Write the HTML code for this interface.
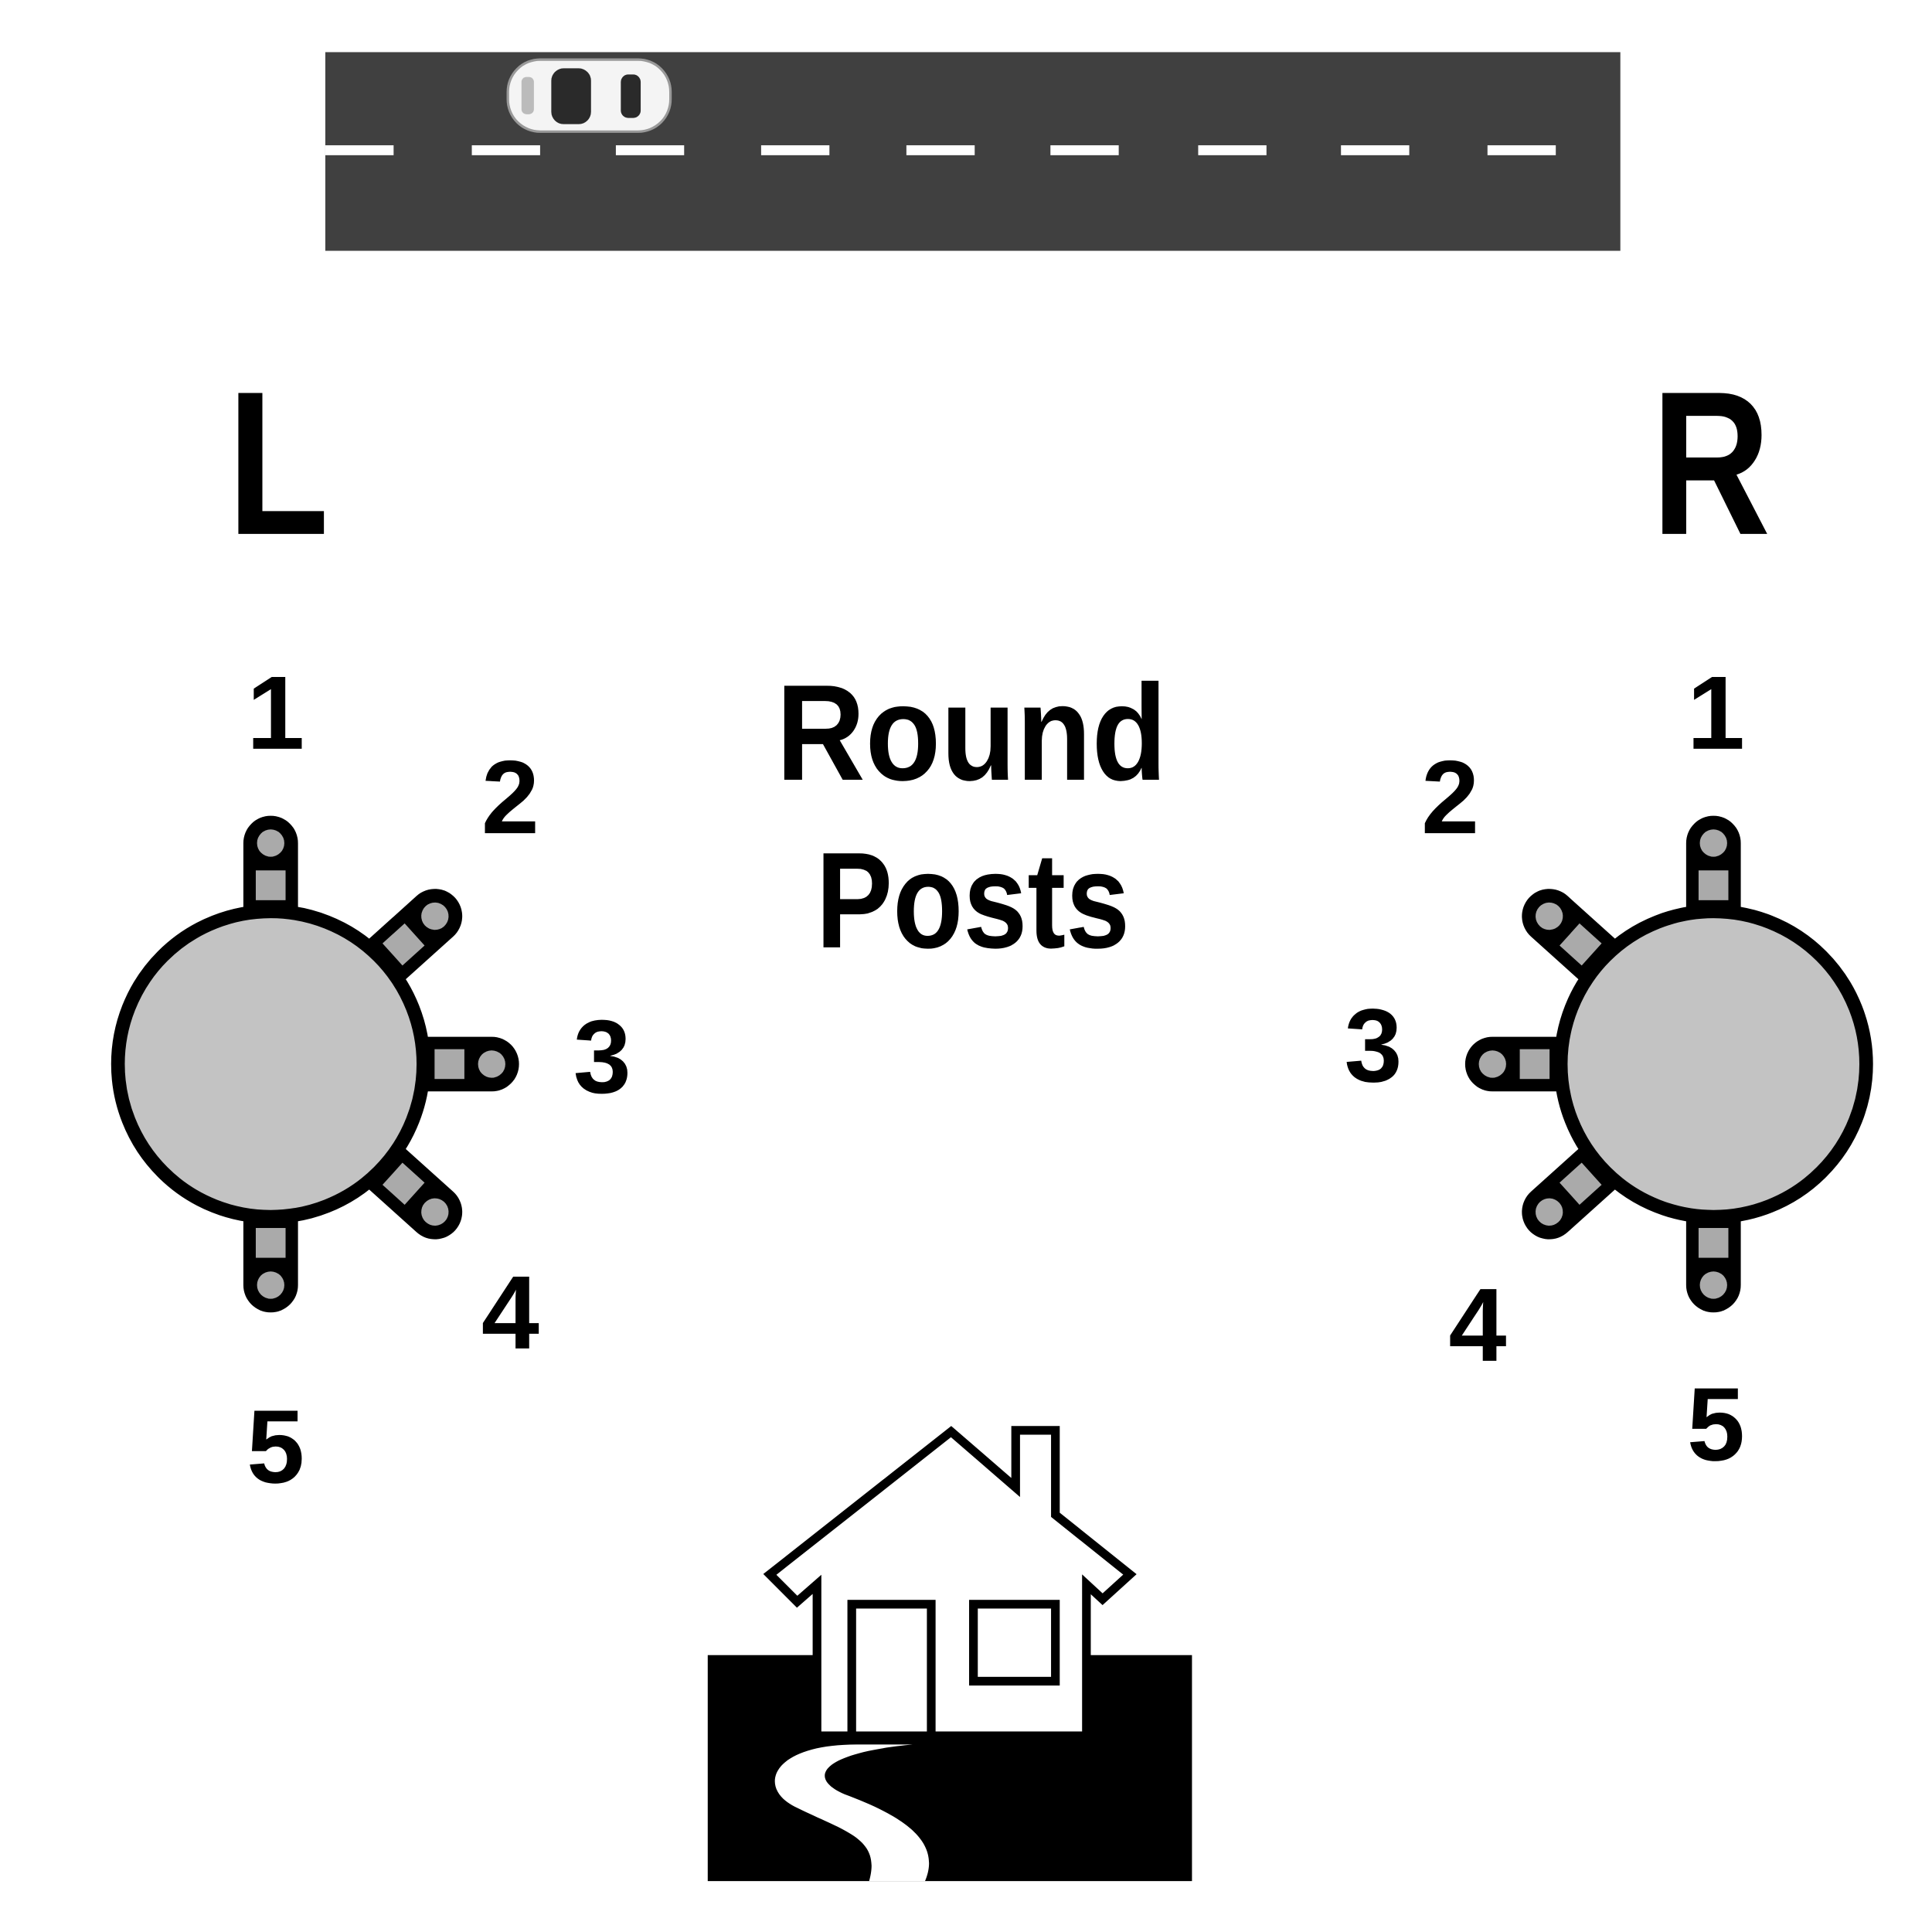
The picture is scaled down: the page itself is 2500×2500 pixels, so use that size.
<!DOCTYPE html>
<html><head><meta charset="utf-8"><style>
html,body{margin:0;padding:0;background:#fff;}
svg{display:block;}
text{font-family:"Liberation Sans","DejaVu Sans",sans-serif;font-weight:bold;fill:#000;}
</style></head><body>
<svg width="2500" height="2500" viewBox="0 0 1556 1556" xmlns="http://www.w3.org/2000/svg">
<g>
<rect x="262" y="42" width="1043" height="160" fill="#404040"/>
<g fill="#fff">
<rect x="262" y="117" width="55" height="8"/><rect x="380" y="117" width="55" height="8"/><rect x="496" y="117" width="55" height="8"/>
<rect x="613" y="117" width="55" height="8"/><rect x="730" y="117" width="55" height="8"/><rect x="846" y="117" width="55" height="8"/>
<rect x="965" y="117" width="55" height="8"/><rect x="1080" y="117" width="55" height="8"/><rect x="1198" y="117" width="55" height="8"/>
</g>
<g>
<rect x="409" y="48" width="131" height="58" rx="26" fill="#f4f4f4" stroke="#999" stroke-width="2"/>
<rect x="444" y="55" width="32" height="45" rx="10" fill="#2a2a2a"/>
<rect x="500" y="60" width="16" height="35" rx="6" fill="#2a2a2a"/>
<rect x="420" y="62" width="10" height="30" rx="4" fill="#bbb"/>
</g>
</g>
<text x="183" y="430" font-size="165" textLength="82" lengthAdjust="spacingAndGlyphs">L</text>
<text x="1330" y="430" font-size="165" textLength="96" lengthAdjust="spacingAndGlyphs">R</text>
<text x="625" y="628" font-size="110" textLength="315" lengthAdjust="spacingAndGlyphs">Round</text>
<text x="657" y="763" font-size="110" textLength="253" lengthAdjust="spacingAndGlyphs">Posts</text>

<g id="leftpost"></g>
<g id="rightpost"></g>

<g font-size="84">
<text x="222" y="603" text-anchor="middle">1</text>
<text x="411" y="671" text-anchor="middle">2</text>
<text x="485" y="880" text-anchor="middle">3</text>
<text x="411" y="1086" text-anchor="middle">4</text>
<text x="222" y="1194" text-anchor="middle">5</text>
</g>
<g font-size="84">
<text x="1382" y="603" text-anchor="middle">1</text>
<text x="1168" y="671" text-anchor="middle">2</text>
<text x="1106" y="871" text-anchor="middle">3</text>
<text x="1190" y="1096" text-anchor="middle">4</text>
<text x="1382" y="1176" text-anchor="middle">5</text>
</g>

<g>
<rect x="570" y="1333" width="390" height="182" fill="#000"/>
<path d="M766,1153 L818,1198 L818,1152 L850,1152 L850,1220 L910,1268 L888,1288 L875,1276 L875,1398 L658,1398 L658,1276 L642,1290 L620,1268 Z" fill="#fff" stroke="#000" stroke-width="7"/>
<rect x="686" y="1292" width="64" height="106" fill="#fff" stroke="#000" stroke-width="7"/>
<rect x="784" y="1292" width="66" height="62" fill="#fff" stroke="#000" stroke-width="7"/>
<path d="M690,1405 C620,1405 610,1440 640,1455 C680,1475 710,1480 700,1515 L745,1515 C760,1480 720,1460 680,1445 C650,1432 660,1412 735,1405 Z" fill="#fff"/>
</g>
</svg>
<script>
const NS='http://www.w3.org/2000/svg';
function mk(tag,attrs,parent){const e=document.createElementNS(NS,tag);for(const k in attrs)e.setAttribute(k,attrs[k]);parent.appendChild(e);return e;}
function drawPost(g,cx,cy,angles){
  angles.forEach((a,i)=>{
    const arm=mk('g',{transform:`translate(${cx},${cy}) rotate(${a})`},g);
    
    
    mk('rect',{x:100,y:-22,width:100,height:44,rx:22,fill:'#000'},arm);
    mk('rect',{x:132,y:-12,width:24,height:24,fill:'#aaa'},arm);
    mk('circle',{cx:178,cy:0,r:11,fill:'#aaa'},arm);
  });
  const c=mk('circle',{cx:cx,cy:cy,r:123,fill:'#c3c3c3',stroke:'#000','stroke-width':11},g);
  
  
}
drawPost(document.getElementById('leftpost'),218,857,[-90,-42,0,42,90]);
drawPost(document.getElementById('rightpost'),1380,857,[-90,-138,180,138,90]);
</script>
</body></html>
